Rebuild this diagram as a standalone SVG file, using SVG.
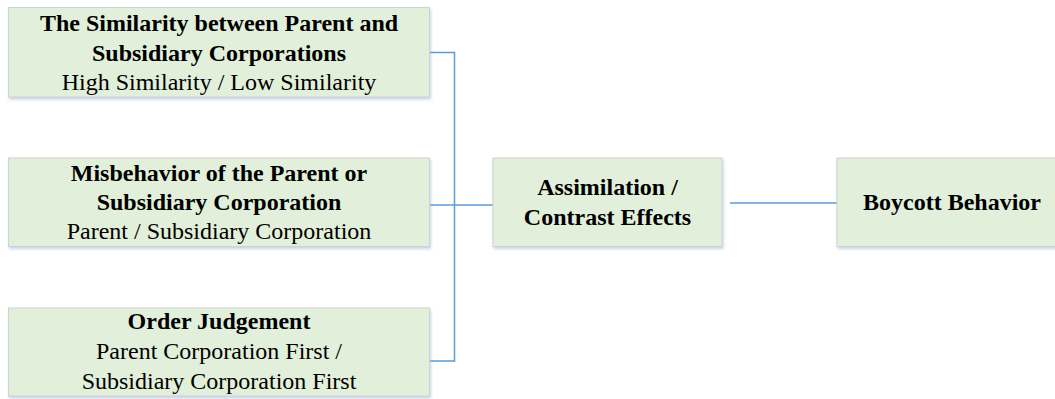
<svg xmlns="http://www.w3.org/2000/svg" width="1055" height="399" viewBox="0 0 1055 399">
<defs>
<filter id="sh" x="-5%" y="-10%" width="110%" height="125%">
<feDropShadow dx="1" dy="2" stdDeviation="1.5" flood-color="#9fb6d6" flood-opacity="0.6"/>
</filter>
<style>
.box{fill:#E2EFDA;stroke:#cfd3cf;stroke-width:1;filter:url(#sh)}
text{font-family:"Liberation Serif","Times New Roman",serif;font-size:24px;fill:#000;text-anchor:middle}
.b{font-weight:bold}
.conn{fill:none;stroke:#5B9BD5;stroke-width:1.5}
</style>
</defs>
<rect width="1055" height="399" fill="#ffffff"/>
<g id="connectors">
<path class="conn" d="M430 52.5 H454.5 V361 H430"/>
<path class="conn" d="M430 205 H493"/>
<path class="conn" d="M730 203 H837"/>
</g>
<g id="node-similarity">
<rect class="box" x="8.5" y="7.5" width="421" height="89.5"/>
<text class="b" x="219" y="31">The Similarity between Parent and</text>
<text class="b" x="219" y="61">Subsidiary Corporations</text>
<text x="219" y="90">High Similarity / Low Similarity</text>
</g>
<g id="node-misbehavior">
<rect class="box" x="8.5" y="158" width="421" height="88.5"/>
<text class="b" x="219" y="181">Misbehavior of the Parent or</text>
<text class="b" x="219" y="210">Subsidiary Corporation</text>
<text x="219" y="239">Parent / Subsidiary Corporation</text>
</g>
<g id="node-order">
<rect class="box" x="8.5" y="308" width="421" height="88"/>
<text class="b" x="219" y="329">Order Judgement</text>
<text x="219" y="359">Parent Corporation First /</text>
<text x="219" y="389">Subsidiary Corporation First</text>
</g>
<g id="node-assimilation">
<rect class="box" x="493" y="158" width="229" height="88.5"/>
<text class="b" x="607.5" y="195">Assimilation /</text>
<text class="b" x="607.5" y="225">Contrast Effects</text>
</g>
<g id="node-boycott">
<rect class="box" x="837" y="158" width="230" height="88.5"/>
<text class="b" x="952" y="210">Boycott Behavior</text>
</g>
</svg>
